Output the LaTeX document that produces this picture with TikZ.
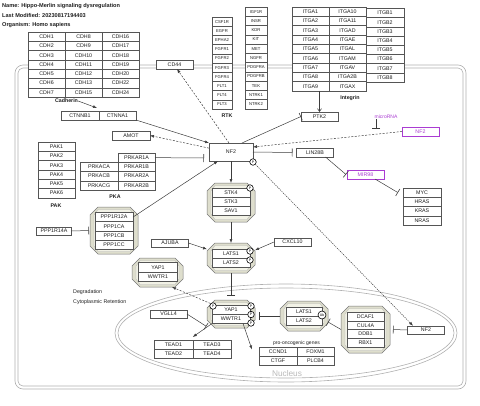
\documentclass[tikz,border=0pt]{standalone}
\usepackage{fontspec}
\setmainfont{Liberation Sans}
\usetikzlibrary{arrows.meta,fit,calc}
\definecolor{bdr}{RGB}{85,85,85}
\definecolor{lin}{RGB}{60,60,60}
\definecolor{memb}{RGB}{175,175,175}
\definecolor{purp}{RGB}{170,60,210}
\definecolor{band}{RGB}{222,222,205}
\definecolor{cfill}{RGB}{242,242,230}
\definecolor{txt}{RGB}{30,30,30}
\definecolor{nucl}{RGB}{185,185,185}
\newcommand\mycplx[5]{%
  \filldraw[fill=band, draw=bdr!80, line width=0.5pt] ({#2+8},#3) -- ({#4-8},#3) -- (#4,{#3+8}) -- (#4,{#5-8}) -- ({#4-8},#5) -- ({#2+8},#5) -- (#2,{#5-8}) -- (#2,{#3+8}) -- cycle;
  \filldraw[fill=cfill, draw=bdr!45, line width=0.3pt] ({#2+8},{#3+2.5}) -- ({#4-8},{#3+2.5}) -- ({#4-4},{#3+8}) -- ({#4-4},{#5-8}) -- ({#4-8},{#5-2.5}) -- ({#2+8},{#5-2.5}) -- ({#2+4},{#5-8}) -- ({#2+4},{#3+8}) -- cycle;
  \node[fit={(#2,#3) (#4,#5)}, inner sep=0pt, outer sep=0pt] (#1) {};
}
\begin{document}
\begin{tikzpicture}[x=1pt,y=-1pt,
  box/.style={draw=bdr, line width=0.5pt, fill=white, inner sep=0pt, outer sep=0pt, minimum height=9.2pt, font=\fontsize{5.3}{6}\selectfont, text=txt},
  sbox/.style={box, font=\fontsize{4.2}{5}\selectfont},
  pbox/.style={box, draw=purp, text=purp},
  lbl/.style={inner sep=0pt, font=\bfseries\fontsize{5.3}{6}\selectfont, text=txt},
  hdr/.style={inner sep=0pt, anchor=west, font=\bfseries\fontsize{5.6}{6}\selectfont, text=txt},
  txtl/.style={inner sep=0pt, font=\fontsize{5.3}{6}\selectfont, text=txt, anchor=west},
  con/.style={draw=lin, line width=0.5pt},
  arr/.style={con, -{Latex[length=4pt,width=3pt]}},
  oarr/.style={con, -{Straight Barb[length=3pt,width=4pt]}},
  inh/.style={con, -{Bar[width=8pt,line width=0.6pt]}},
  dsh/.style={dash pattern=on 2pt off 1.5pt},
  dtd/.style={dash pattern=on 1.2pt off 1pt},
  pc/.style={circle, draw=black, fill=white, line width=0.6pt, inner sep=0pt, minimum size=6.5pt, font=\fontsize{3.5}{4}\selectfont},
  mem/.style={draw=memb, line width=0.6pt}
]
\useasboundingbox (0,0) rectangle (480,405);
% header
\node[hdr] (hname) at (2,6) {Name: Hippo-Merlin signaling dysregulation};
\node[hdr] (hmod) at (2,15.5) {Last Modified: 20230817194403};
\node[hdr] (horg) at (2,25) {Organism: Homo sapiens};
% membrane and nucleus
\draw[mem, rounded corners=8pt] (15,65) rectangle (466,389);
\draw[mem, rounded corners=5pt] (18,68) rectangle (463,386);
\draw[mem] (286,333) ellipse [x radius=171pt, y radius=49pt];
\draw[mem] (286,333) ellipse [x radius=168pt, y radius=45pt];
\node[inner sep=0pt, text=nucl, font=\fontsize{8.3}{9}\selectfont] (nuclbl) at (287,374) {Nucleus};
% complexes
\mycplx{pp1}{90}{207}{138}{254}
\mycplx{stk}{207}{183}{255}{222}
\mycplx{lats}{207}{243}{255}{273}
\mycplx{cyap}{132}{258}{183}{287}
\mycplx{nyap}{207}{300}{255}{328}
\mycplx{nlats}{280}{301}{328}{331}
\mycplx{crl4}{341}{306}{390}{353}
% cadherins
\foreach \n [count=\i] in {CDH1,CDH2,CDH3,CDH4,CDH5,CDH6,CDH7}
  \node[box,minimum width=37pt,minimum height=9.3pt] (\n) at (46.5,{32+9.3*(\i-0.5)}) {\n};
\foreach \n [count=\i] in {CDH8,CDH9,CDH10,CDH11,CDH12,CDH13,CDH15}
  \node[box,minimum width=37pt,minimum height=9.3pt] (\n) at (83.5,{32+9.3*(\i-0.5)}) {\n};
\foreach \n [count=\i] in {CDH16,CDH17,CDH18,CDH19,CDH20,CDH22,CDH24}
  \node[box,minimum width=37pt,minimum height=9.3pt] (\n) at (120.5,{32+9.3*(\i-0.5)}) {\n};
\node[lbl] (cadlbl) at (66.5,101) {Cadherin};
\node[box,minimum width=38pt,minimum height=9pt] (CTNNB1) at (80,115.5) {CTNNB1};
\node[box,minimum width=37pt,minimum height=9pt] (CTNNA1) at (117.5,115.5) {CTNNA1};
\node[box,minimum width=37pt,minimum height=9pt] (CD44) at (174.5,64.5) {CD44};
% RTK
\foreach \n [count=\i] in {CSF1R,EGFR,EPHA2,FGFR1,FGFR2,FGFR3,FGFR4,FLT1,FLT4,FLT3}
  \node[sbox,minimum width=20pt,minimum height=9.2pt] (\n) at (222,{17+9.2*(\i-0.5)}) {\n};
\foreach \n [count=\i] in {IGF1R,INSR,KDR,KIT,MET,NGFR,PDGFRA,PDGFRB,TEK,NTRK1,NTRK2}
  \node[sbox,minimum width=22pt,minimum height=9.27pt] (\n) at (256,{7+9.27*(\i-0.5)}) {\n};
\node[lbl] (rtklbl) at (227,116) {RTK};
% integrins
\foreach \n [count=\i] in {ITGA1,ITGA2,ITGA3,ITGA4,ITGA5,ITGA6,ITGA7,ITGA8,ITGA9}
  \node[box,minimum width=37pt,minimum height=9.33pt] (\n) at (310.5,{7+9.33*(\i-0.5)}) {\n};
\foreach \n [count=\i] in {ITGA10,ITGA11,ITGAD,ITGAE,ITGAL,ITGAM,ITGAV,ITGA2B,ITGAX}
  \node[box,minimum width=37pt,minimum height=9.33pt] (\n) at (347.5,{7+9.33*(\i-0.5)}) {\n};
\foreach \n [count=\i] in {ITGB1,ITGB2,ITGB3,ITGB4,ITGB5,ITGB6,ITGB7,ITGB8}
  \node[box,minimum width=38pt,minimum height=9.2pt] (\n) at (385,{8.5+9.2*(\i-0.5)}) {\n};
\node[lbl] (intlbl) at (350,98) {Integrin};
\node[box,minimum width=37pt,minimum height=9pt] (PTK2) at (319.5,116.5) {PTK2};
% microRNA
\node[inner sep=0pt, text=purp, font=\fontsize{5}{6}\selectfont] (mirlbl) at (386,117) {microRNA};
\node[pbox,minimum width=37pt,minimum height=9pt] (nf2mir) at (420.5,131.5) {NF2};
\coordinate (mirhit) at (376,129);
% NF2 and neighbours
\node[box,minimum width=44pt,minimum height=18pt] (nf2) at (231,152) {NF2};
\node[box,minimum width=38pt,minimum height=9pt] (AMOT) at (131,135.5) {AMOT};
\foreach \n [count=\i] in {PAK1,PAK2,PAK3,PAK4,PAK5,PAK6}
  \node[box,minimum width=37pt,minimum height=9.3pt] (\n) at (56.5,{142+9.3*(\i-0.5)}) {\n};
\node[lbl] (paklbl) at (56,206) {PAK};
\foreach \n [count=\i] in {PRKAR1A,PRKAR1B,PRKAR2A,PRKAR2B}
  \node[box,minimum width=37pt,minimum height=9.25pt] (\n) at (136.5,{153+9.25*(\i-0.5)}) {\n};
\foreach \n [count=\i] in {PRKACA,PRKACB,PRKACG}
  \node[box,minimum width=38pt,minimum height=9.25pt] (\n) at (99,{162.25+9.25*(\i-0.5)}) {\n};
\node[lbl] (pkalbl) at (115,197) {PKA};
\foreach \n [count=\i] in {PPP1R12A,PPP1CA,PPP1CB,PPP1CC}
  \node[box,minimum width=38pt,minimum height=9.2pt] (\n) at (114,{212.5+9.2*(\i-0.5)}) {\n};
\node[box,minimum width=35pt,minimum height=8.5pt] (PPP1R14A) at (54,231) {PPP1R14A};
\foreach \n [count=\i] in {STK4,STK3,SAV1}
  \node[box,minimum width=38pt,minimum height=9pt] (\n) at (231,{188+9*(\i-0.5)}) {\n};
\foreach \n [count=\i] in {LATS1,LATS2}
  \node[box,minimum width=38pt,minimum height=9pt] (\n) at (231,{249+9*(\i-0.5)}) {\n};
\node[box,minimum width=37pt,minimum height=8.5pt] (AJUBA) at (170,243) {AJUBA};
\node[box,minimum width=37pt,minimum height=8.5pt] (CXCL10) at (292.5,242) {CXCL10};
\node[box,minimum width=37pt,minimum height=9pt] (LIN28B) at (315,152.5) {LIN28B};
\node[pbox,minimum width=37pt,minimum height=9pt] (mir98) at (365.5,174.5) {MIR98};
\foreach \n [count=\i] in {MYC,HRAS,KRAS,NRAS}
  \node[box,minimum width=38pt,minimum height=9.25pt] (\n) at (422,{188+9.25*(\i-0.5)}) {\n};
% cytoplasmic YAP
\node[box,minimum width=39pt,minimum height=9.5pt] (cYAP1) at (158,267.25) {YAP1};
\node[box,minimum width=39pt,minimum height=9.5pt] (cWWTR1) at (158,276.75) {WWTR1};
\node[txtl] (deglbl) at (73,292) {Degradation};
\node[txtl] (retlbl) at (73,302.5) {Cytoplasmic Retention};
% nuclear
\node[box,minimum width=38pt,minimum height=9pt] (nYAP1) at (231,310) {YAP1};
\node[box,minimum width=38pt,minimum height=9pt] (nWWTR1) at (231,319) {WWTR1};
\node[box,minimum width=37pt,minimum height=8.5pt] (VGLL4) at (168.5,314) {VGLL4};
\node[box,minimum width=38.5pt,minimum height=9pt] (TEAD1) at (173.5,344.5) {TEAD1};
\node[box,minimum width=38.5pt,minimum height=9pt] (TEAD3) at (212,344.5) {TEAD3};
\node[box,minimum width=38.5pt,minimum height=9pt] (TEAD2) at (173.5,353.5) {TEAD2};
\node[box,minimum width=38.5pt,minimum height=9pt] (TEAD4) at (212,353.5) {TEAD4};
\node[inner sep=0pt, font=\fontsize{5}{6}\selectfont, text=txt] (prolbl) at (296.5,343) {pro-oncogenic genes};
\node[box,minimum width=38pt,minimum height=9pt] (CCND1) at (278,351.5) {CCND1};
\node[box,minimum width=37pt,minimum height=9pt] (FOXM1) at (315.5,351.5) {FOXM1};
\node[box,minimum width=38pt,minimum height=9pt] (CTGF) at (278,360.5) {CTGF};
\node[box,minimum width=37pt,minimum height=9pt] (PLCB4) at (315.5,360.5) {PLCB4};
\node[box,minimum width=36pt,minimum height=9pt] (nLATS1) at (304,311.5) {LATS1};
\node[box,minimum width=36pt,minimum height=9pt] (nLATS2) at (304,320.5) {LATS2};
\foreach \n [count=\i] in {DCAF1,CUL4A,DDB1,RBX1}
  \node[box,minimum width=37pt,minimum height=8.8pt] (\n) at (365.5,{312+8.8*(\i-0.5)}) {\n};
\node[box,minimum width=37pt,minimum height=8.5pt] (nf2nuc) at (426,330) {NF2};
% connectors
\draw[arr] (cadlbl.east) -- ([shift={(-2pt,3pt)}]CTNNB1.north east);
\draw[arr] (CTNNA1.south east) -- (nf2.north west);
\draw[arr, dsh] (nf2.170) -- (AMOT.east);
\draw[inh] (PRKAR1A.east) -- ([shift={(-5pt,-6pt)}]nf2.west);
\draw[arr] (PPP1R12A.east) -- ([xshift=9pt]nf2.south west);
\draw[inh] (PPP1R14A.east) -- ([xshift=-1pt]pp1.west);
\draw[arr] (nf2.south) -- (stk.north);
\draw[arr] (stk.south) -- (lats.north);
\draw[arr] (AJUBA.east) -- (lats.160);
\draw[arr] (CXCL10.west) -- (lats.18);
\draw[inh] (nf2.east) -- ([xshift=-4pt]LIN28B.west);
\draw[inh] ([xshift=-8pt]LIN28B.south east) -- ([xshift=-1pt]mir98.west);
\draw[inh] ([xshift=-9pt]mir98.south east) -- ([xshift=-5pt]MYC.west);
\draw[arr, dsh] (nf2mir.west) -- ([yshift=5pt]nf2.east);
\draw[inh] ([xshift=-10pt]mirlbl.south) -- (mirhit);
\draw[arr, dsh] ([xshift=-2pt]nf2.north) -- ([xshift=2.5pt]CD44.south);
\draw[inh] ([xshift=11pt]nf2.north) -- (PTK2.west);
\draw[oarr] (PTK2.north |- ITGA9.south) -- (PTK2.north);
\draw[inh] (lats.south) -- ([yshift=4pt]nyap.north);
\draw[inh] (nlats.west) -- ([xshift=4pt]nyap.east |- nlats.west);
\draw[inh] (crl4.west) -- (nlats.-14);
\draw[inh] (nf2nuc.west) -- ([xshift=3pt]crl4.east);
\draw[arr] (nWWTR1.south west) -- coordinate[pos=0.25] (yt) ([yshift=3pt]TEAD1.north east);
\draw[inh, shorten >=1pt] (VGLL4.east) -- (yt);
\draw[arr] ([xshift=-7pt]nWWTR1.south east) -- ([shift={(-7pt,2pt)}]CCND1.west);
% phosphorylation / ubiquitination sites
\node[pc] (pnf2) at (253,162) {P};
\node[pc] (pstk) at (250,188) {P};
\node[pc] (plats1) at (250,251) {P};
\node[pc] (plats2) at (250,260) {P};
\node[pc] (pyl) at (213,306) {P};
\node[pc] (py1) at (251,306) {P};
\node[pc] (py2) at (251,314.5) {P};
\node[pc] (py3) at (251,323) {P};
\node[pc, minimum size=8pt] (ub) at (322,315) {Ub};
\draw[arr, dsh] (pyl.north west) -- (cyap.-45);
\draw[arr, dtd] (pnf2.south east) -- ([xshift=-13pt]nf2nuc.north);
\end{tikzpicture}
\end{document}
